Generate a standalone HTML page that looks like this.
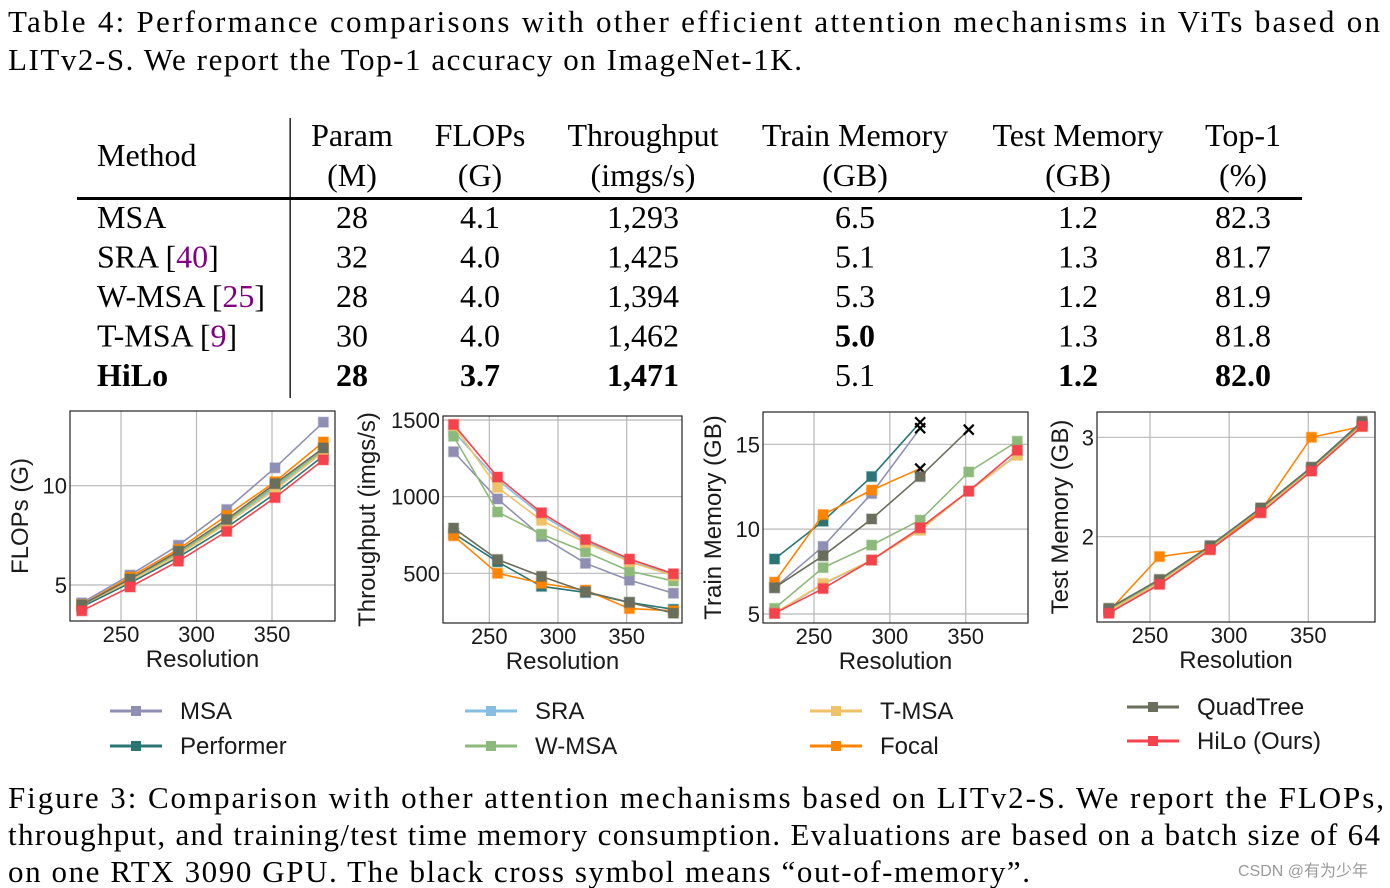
<!DOCTYPE html>
<html><head><meta charset="utf-8"><style>
html,body{margin:0;padding:0;background:#fff;width:1390px;height:888px;overflow:hidden}
svg{display:block}
.serif{font-family:"Liberation Serif","Times New Roman",Times,serif;fill:#000}
.sans{font-family:"Liberation Sans",Arial,sans-serif;fill:#1a1a1a}
</style></head><body>
<svg id="page" width="1390" height="888" viewBox="0 0 1390 888" xmlns="http://www.w3.org/2000/svg">
<g class="serif" font-size="31">
<text x="8" y="32" textLength="1372" lengthAdjust="spacing">Table 4:  Performance comparisons with other efficient attention mechanisms in ViTs based on</text>
<text x="8" y="70" textLength="794" lengthAdjust="spacing">LITv2-S. We report the Top-1 accuracy on ImageNet-1K.</text>
</g>
<g id="table" class="serif" font-size="32"></g>
<g id="charts"></g>
<g id="legend"></g>
<g class="serif" font-size="31">
<text x="8" y="808" textLength="1376" lengthAdjust="spacing">Figure 3: Comparison with other attention mechanisms based on LITv2-S. We report the FLOPs,</text>
<text x="8" y="845" textLength="1372" lengthAdjust="spacing">throughput, and training/test time memory consumption. Evaluations are based on a batch size of 64</text>
<text x="8" y="882" textLength="1022" lengthAdjust="spacing">on one RTX 3090 GPU. The black cross symbol means “out-of-memory”.</text>
</g>
<text x="1238" y="876" font-size="16" fill="#9a9a9a" style="font-family:'Liberation Sans','Noto Sans CJK SC',sans-serif">CSDN @有为少年</text>
</svg>
<script>
// ---------- data ----------
const resolutions = [224, 256, 288, 320, 352, 384];
const seriesNames = ["MSA", "Performer", "SRA", "W-MSA", "T-MSA", "Focal", "QuadTree", "HiLo (Ours)"];
const flopsMSA = [4.1, 5.5, 7.0, 8.8, 10.9, 13.2];
const flopsPerformer = [3.9, 5.1, 6.4, 7.9, 9.6, 11.5];
const flopsSRA = [4.0, 5.2, 6.6, 8.1, 9.9, 11.7];
const flopsWMSA = [4.0, 5.3, 6.6, 8.2, 10.0, 11.8];
const flopsTMSA = [4.0, 5.2, 6.5, 8.1, 9.8, 11.7];
const flopsFocal = [4.0, 5.4, 6.8, 8.5, 10.2, 12.2];
const flopsQuadTree = [4.0, 5.3, 6.7, 8.3, 10.1, 11.9];
const flopsHiLo = [3.7, 4.9, 6.2, 7.7, 9.4, 11.3];
const tputMSA = [1293, 985, 740, 565, 455, 370];
const tputPerformer = [760, 575, 415, 375, 310, 265];
const tputSRA = [1425, 1110, 880, 710, 580, 490];
const tputWMSA = [1394, 900, 755, 640, 515, 450];
const tputTMSA = [1462, 1060, 845, 700, 575, 485];
const tputFocal = [745, 500, 435, 390, 270, 255];
const tputQuadTree = [795, 590, 480, 380, 310, 240];
const tputHiLo = [1471, 1128, 895, 720, 593, 497];
const trainMSA = [6.55, 8.98, 12.1, 15.95, null, null];
const trainPerformer = [8.24, 10.47, 13.1, 16.3, null, null];
const trainSRA = [5.04, 6.75, 8.18, 9.96, 12.24, 14.4];
const trainWMSA = [5.33, 7.73, 9.06, 10.53, 13.37, 15.18];
const trainTMSA = [5.04, 6.8, 8.18, 9.94, 12.24, 14.35];
const trainFocal = [6.88, 10.86, 12.3, 13.57, null, null];
const trainQuadTree = [6.55, 8.43, 10.6, 13.1, 15.86, null];
const trainHiLo = [5.04, 6.5, 8.18, 10.08, 12.24, 14.65];
const oomFlagsMSA = [0, 0, 0, 1, 0, 0];
const oomFlagsPerformer = [0, 0, 0, 1, 0, 0];
const oomFlagsFocal = [0, 0, 0, 1, 0, 0];
const oomFlagsQuadTree = [0, 0, 0, 0, 1, 0];
const testMSA = [1.27, 1.56, 1.9, 2.28, 2.69, 3.14];
const testPerformer = [1.26, 1.55, 1.89, 2.27, 2.68, 3.13];
const testSRA = [1.24, 1.53, 1.88, 2.25, 2.67, 3.12];
const testWMSA = [1.26, 1.55, 1.89, 2.27, 2.68, 3.13];
const testTMSA = [1.25, 1.54, 1.88, 2.26, 2.67, 3.12];
const testFocal = [1.25, 1.8, 1.87, 2.26, 3.0, 3.11];
const testQuadTree = [1.28, 1.57, 1.91, 2.29, 2.7, 3.16];
const testHiLo = [1.23, 1.52, 1.87, 2.24, 2.66, 3.11];
const xTicks = [250, 300, 350];
const flopsTicks = [5, 10];
const tputTicks = [500, 1000, 1500];
const trainTicks = [5, 10, 15];
const testTicks = [2, 3];
// table data
const tableMethods = ["MSA", "SRA", "W-MSA", "T-MSA", "HiLo"];
const tableRefs = ["", "40", "25", "9", ""];
const tableParam = ["28", "32", "28", "30", "28"];
const tableFlops = ["4.1", "4.0", "4.0", "4.0", "3.7"];
const tableTput = ["1,293", "1,425", "1,394", "1,462", "1,471"];
const tableTrain = ["6.5", "5.1", "5.3", "5.0", "5.1"];
const tableTest = ["1.2", "1.3", "1.2", "1.3", "1.2"];
const tableTop1 = ["82.3", "81.7", "81.9", "81.8", "82.0"];
const tableBold = [[], [], [], ["train"], ["method", "param", "flops", "tput", "test", "top1"]];

const NS = "http://www.w3.org/2000/svg";
const colors = ["#8f8fb3", "#2b7575", "#86bde3", "#8dba7a", "#f0c268", "#ff8400", "#6a6e5c", "#f4434c"];
function mk(tag, attrs, parent) { const e = document.createElementNS(NS, tag); for (const k in attrs) e.setAttribute(k, attrs[k]); if (parent) parent.appendChild(e); return e; }

// ---------- table ----------
const tbl = document.getElementById("table");
const colX = {param: 352, flops: 480, tput: 643, train: 855, test: 1078, top1: 1243};
const headers = [["param", "Param", "(M)"], ["flops", "FLOPs", "(G)"], ["tput", "Throughput", "(imgs/s)"], ["train", "Train Memory", "(GB)"], ["test", "Test Memory", "(GB)"], ["top1", "Top-1", "(%)"]];
let t = mk("text", {x: 97, y: 166}, tbl); t.textContent = "Method";


headers.forEach(h => {
  let a = mk("text", {x: colX[h[0]], y: 146, "text-anchor": "middle"}, tbl); a.textContent = h[1];
  
  
  let b = mk("text", {x: colX[h[0]], y: 186, "text-anchor": "middle"}, tbl); b.textContent = h[2];
  
  
});
let rule = mk("rect", {x: 77, y: 197, width: 1225, height: 3, fill: "#000"}, tbl);


let vline = mk("rect", {x: 289.5, y: 118, width: 1.3, height: 280, fill: "#000"}, tbl);


const cols = {param: tableParam, flops: tableFlops, tput: tableTput, train: tableTrain, test: tableTest, top1: tableTop1};
tableMethods.forEach((m, i) => {
  const y = 228 + i * 39.5;
  const bold = tableBold[i];
  const mt = mk("text", {x: 97, y: y, "font-weight": bold.includes("method") ? "bold" : "normal"}, tbl);
  
  
  mt.appendChild(document.createTextNode(m));
  if (tableRefs[i]) {
    mt.appendChild(document.createTextNode(" ["));
    const ts = mk("tspan", {fill: "#800080"}, mt); ts.textContent = tableRefs[i];
    mt.appendChild(document.createTextNode("]"));
  }
  for (const k in cols) {
    const c = mk("text", {x: colX[k], y: y, "text-anchor": "middle", "font-weight": bold.includes(k) ? "bold" : "normal"}, tbl);
    c.textContent = cols[k][i];
    
    
  }
});

// ---------- charts ----------
const charts = [
  {name: "flops-chart", label: "FLOPs (G)", box: [70, 411, 335, 621], xa: [250, 121, 350, 272], ya: [10, 485.7, 5, 585], ticks: flopsTicks, labX: 20,
   series: [flopsMSA, flopsPerformer, flopsSRA, flopsWMSA, flopsTMSA, flopsFocal, flopsQuadTree, flopsHiLo], oom: []},
  {name: "throughput-chart", label: "Throughput (imgs/s)", box: [443, 416, 682, 623], xa: [250, 489.3, 350, 626.7], ya: [1500, 420, 500, 573.3], ticks: tputTicks, labX: 367,
   series: [tputMSA, tputPerformer, tputSRA, tputWMSA, tputTMSA, tputFocal, tputQuadTree, tputHiLo], oom: []},
  {name: "train-memory-chart", label: "Train Memory (GB)", box: [763, 412, 1028, 623], xa: [250, 814, 350, 965.7], ya: [15, 444.3, 5, 614], ticks: trainTicks, labX: 713,
   series: [trainMSA, trainPerformer, trainSRA, trainWMSA, trainTMSA, trainFocal, trainQuadTree, trainHiLo],
   oom: [oomFlagsMSA, oomFlagsPerformer, null, null, null, oomFlagsFocal, oomFlagsQuadTree, null]},
  {name: "test-memory-chart", label: "Test Memory (GB)", box: [1097, 412, 1375, 622], xa: [250, 1150, 350, 1308.3], ya: [3, 437.3, 2, 536.7], ticks: testTicks, labX: 1060,
   series: [testMSA, testPerformer, testSRA, testWMSA, testTMSA, testFocal, testQuadTree, testHiLo], oom: []}
];
const root = document.getElementById("charts");
charts.forEach(c => {
  const g = mk("g", {}, root);
  
  
  const [L, T, R, B] = c.box;
  const xs = v => c.xa[1] + (v - c.xa[0]) * (c.xa[3] - c.xa[1]) / (c.xa[2] - c.xa[0]);
  const ys = v => c.ya[1] + (v - c.ya[0]) * (c.ya[3] - c.ya[1]) / (c.ya[2] - c.ya[0]);
  const grid = mk("g", {stroke: "#b8b8b8", "stroke-width": 1.2}, g);
  
  
  xTicks.forEach(v => {
    mk("line", {x1: xs(v), x2: xs(v), y1: T, y2: B}, grid);
    const tl = mk("text", {x: xs(v), y: B + 21, "text-anchor": "middle", "font-size": 22, class: "sans"}, g);
    tl.textContent = v;
    
    
  });
  c.ticks.forEach(v => {
    mk("line", {x1: L, x2: R, y1: ys(v), y2: ys(v)}, grid);
    const tl = mk("text", {x: L - 3, y: ys(v) + 8, "text-anchor": "end", "font-size": 22, class: "sans"}, g);
    tl.textContent = v;
    
    
  });
  c.series.forEach((s, si) => {
    const sg = mk("g", {}, g);
    
    
    const pts = [];
    resolutions.forEach((r, i) => { if (s[i] != null) pts.push([xs(r), ys(s[i]), c.oom[si] ? c.oom[si][i] : 0]); });
    mk("polyline", {points: pts.map(p => p[0] + "," + p[1]).join(" "), fill: "none", stroke: colors[si], "stroke-width": 1.6}, sg);
    pts.forEach(p => {
      if (p[2]) {
        const x = mk("path", {d: `M${p[0]-5},${p[1]-5}L${p[0]+5},${p[1]+5}M${p[0]-5},${p[1]+5}L${p[0]+5},${p[1]-5}`, stroke: "#000", "stroke-width": 2.2}, sg);
        
        
      } else {
        const m = mk("rect", {x: p[0] - 5, y: p[1] - 5, width: 10, height: 10, fill: colors[si], stroke: colors[si], "stroke-opacity": 0.35, "stroke-width": 1.5}, sg);
        
        
      }
    });
  });
  const fr = mk("rect", {x: L, y: T, width: R - L, height: B - T, fill: "none", stroke: "#222", "stroke-width": 1.2}, g);
  
  
  const xl = mk("text", {x: (L + R) / 2, y: B + 46, "text-anchor": "middle", "font-size": 24, class: "sans"}, g);
  xl.textContent = "Resolution";
  
  
  const cy = (T + B) / 2;
  const yl = mk("text", {x: c.labX, y: cy, "text-anchor": "middle", "font-size": 24, class: "sans", transform: `rotate(-90 ${c.labX} ${cy}) translate(0 8)`}, g);
  yl.textContent = c.label;
  
  
});

// ---------- legend ----------
const leg = document.getElementById("legend");
const legPos = [[110, 711], [110, 746], [465, 711], [465, 746], [810, 711], [810, 746], [1127, 707], [1127, 741]];
const legOrder = [0, 1, 2, 3, 4, 5, 6, 7];
legOrder.forEach((si, k) => {
  const [x, y] = legPos[k];
  const e = mk("g", {}, leg);
  
  
  mk("line", {x1: x, x2: x + 52, y1: y, y2: y, stroke: colors[si], "stroke-width": 3}, e);
  mk("rect", {x: x + 21, y: y - 5, width: 10, height: 10, fill: colors[si]}, e);
  const tx = mk("text", {x: x + 70, y: y + 8, "font-size": 24, class: "sans"}, e);
  tx.textContent = seriesNames[si];
});
</script>
</body></html>
